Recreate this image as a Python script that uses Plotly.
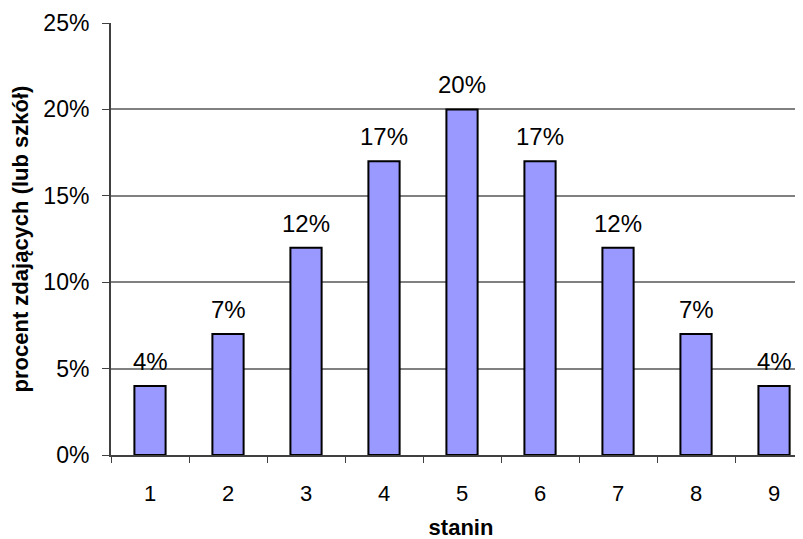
import plotly.graph_objects as go

stanin = [1, 2, 3, 4, 5, 6, 7, 8, 9]
percent = [4, 7, 12, 17, 20, 17, 12, 7, 4]
y_ticks = [0, 5, 10, 15, 20, 25]

FONT = "Liberation Sans, Arial, sans-serif"

fig = go.Figure()
fig.add_trace(go.Bar(
    x=stanin, y=percent, width=0.4,
    marker=dict(color="#9999FF", line=dict(color="#000000", width=2)),
    hoverinfo="skip",
))

for xv, yv in zip(stanin, percent):
    fig.add_annotation(x=xv, y=yv, text=f"{yv}%", showarrow=False,
                       yanchor="bottom", yshift=9,
                       font=dict(family=FONT, size=24, color="#000000"))

fig.update_layout(
    width=803, height=539,
    margin=dict(l=103, r=0, t=15, b=92),
    paper_bgcolor="white", plot_bgcolor="white",
    showlegend=False,
    font=dict(family=FONT, color="#000000"),
    xaxis=dict(
        range=[0.5, 9.474],
        tickmode="array", tickvals=stanin, ticktext=[str(s) for s in stanin],
        ticks="", showgrid=False, zeroline=False,
        showline=True, linecolor="#404040", linewidth=2,
        tickfont=dict(size=22), ticklabelstandoff=18,
        minor=dict(tick0=0.5, dtick=1, ticks="outside", ticklen=6,
                   tickcolor="#404040", tickwidth=1, showgrid=False),
        title=dict(text="<b>stanin</b>", font=dict(size=22), standoff=14),
    ),
    yaxis=dict(
        range=[0, 25], tickmode="array", tickvals=y_ticks,
        ticktext=[f"{v}%" for v in y_ticks],
        ticks="outside", ticklen=7, tickcolor="#404040", tickwidth=1,
        showgrid=True, gridcolor="#808080", gridwidth=1.5,
        zeroline=False, showline=True, linecolor="#404040", linewidth=2,
        tickfont=dict(size=23), ticklabelstandoff=8,
        title=dict(text="<b>procent zdających (lub szkół)</b>", font=dict(size=22), standoff=14),
    ),
)

fig.write_html("out.html")
